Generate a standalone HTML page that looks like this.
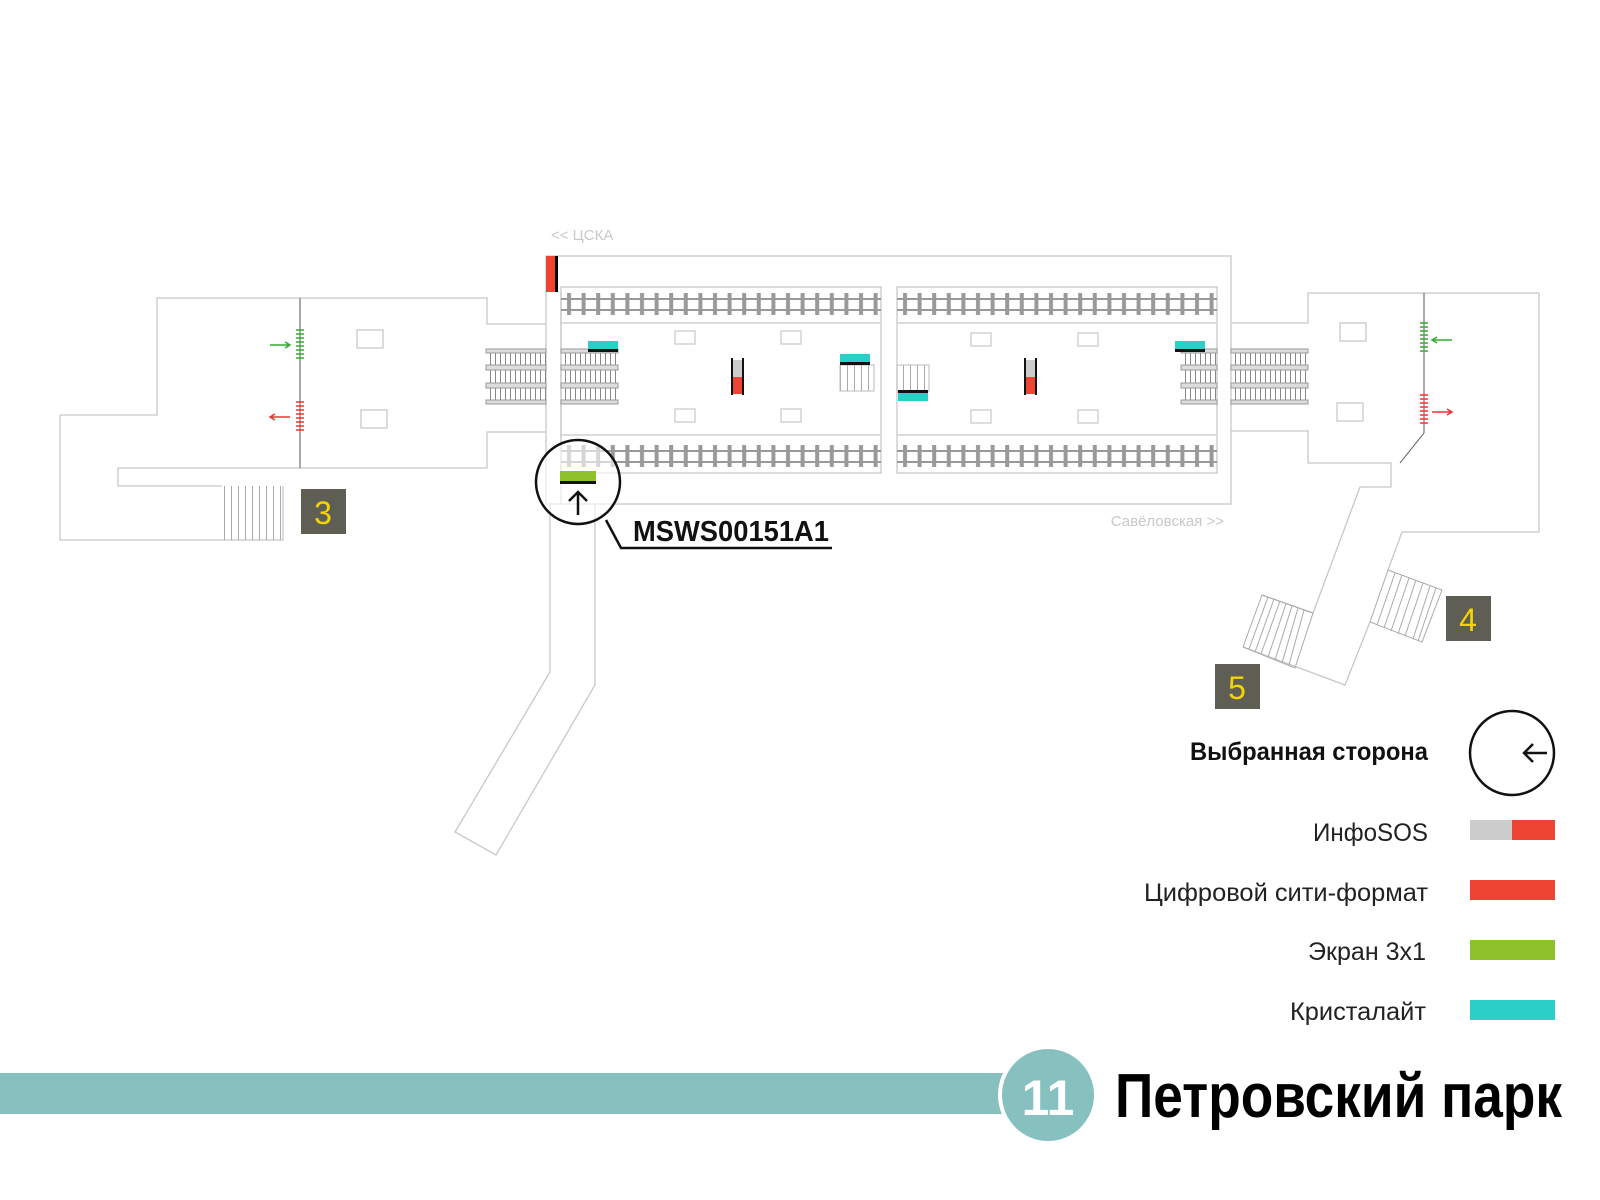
<!DOCTYPE html>
<html><head><meta charset="utf-8"><style>
html,body{margin:0;padding:0;background:#fff;}
svg{display:block;}
text{font-family:"Liberation Sans Narrow","Liberation Sans","DejaVu Sans",sans-serif;}
</style></head><body>
<svg width="1600" height="1200" viewBox="0 0 1600 1200" xmlns="http://www.w3.org/2000/svg">
<defs>
<pattern id="sl" x="563" y="0" width="14.6" height="40" patternUnits="userSpaceOnUse">
<rect x="4" y="0" width="4" height="40" fill="#999"/>
</pattern>
<pattern id="sl2" x="899" y="0" width="14.6" height="40" patternUnits="userSpaceOnUse">
<rect x="4" y="0" width="4" height="40" fill="#999"/>
</pattern>
<pattern id="esc" x="0" y="0" width="5" height="10" patternUnits="userSpaceOnUse">
<rect x="0" y="0" width="1" height="10" fill="#888"/>
</pattern>
<pattern id="st" x="0" y="0" width="7" height="10" patternUnits="userSpaceOnUse">
<rect x="0" y="0" width="1" height="10" fill="#aaa"/>
</pattern>
</defs>

<g fill="none" stroke="#c8c8c8" stroke-width="1.3">
<path d="M60,415 H157 V298 H487 V324 H546 M546,432 H487 V468 H118 V486 H222 M60,415 V540 H283 V486"/>
<rect x="546" y="256" width="685" height="248"/>
<line x1="561" y1="292" x2="561" y2="504"/>
<path d="M550,504 V672 L455,832 L496,855 L595,685 V504"/>
<rect x="561" y="287" width="320" height="186"/>
<rect x="897" y="287" width="320" height="186"/>
<line x1="561" y1="323" x2="881" y2="323"/><line x1="561" y1="435" x2="881" y2="435"/>
<line x1="897" y1="323" x2="1217" y2="323"/><line x1="897" y1="435" x2="1217" y2="435"/>
<path d="M1231,323 H1308 V293 H1539 V532 H1402 L1388,570 M1370,622 L1345,685 L1243,647 M1262,595 L1313,613 L1360,487 H1391 V463 H1308 V431 H1231"/>
<rect x="357" y="330" width="26" height="18"/><rect x="361" y="410" width="26" height="18"/>
<rect x="1340" y="323" width="26" height="18"/><rect x="1337" y="403" width="26" height="18"/>
<g stroke="#ccc"><rect x="675" y="331" width="20" height="13"/><rect x="781" y="331" width="20" height="13"/><rect x="675" y="409" width="20" height="13"/><rect x="781" y="409" width="20" height="13"/>
<rect x="971" y="333" width="20" height="13"/><rect x="1078" y="333" width="20" height="13"/><rect x="971" y="410" width="20" height="13"/><rect x="1078" y="410" width="20" height="13"/></g>
</g>

<g>
<rect x="563" y="293" width="316" height="22" fill="url(#sl)"/>
<rect x="563" y="445" width="316" height="22" fill="url(#sl)"/>
<rect x="899" y="293" width="316" height="22" fill="url(#sl2)"/>
<rect x="899" y="445" width="316" height="22" fill="url(#sl2)"/>
<g stroke="#999" stroke-width="2">
<line x1="561" y1="299" x2="881" y2="299"/><line x1="561" y1="310" x2="881" y2="310"/>
<line x1="561" y1="451" x2="881" y2="451"/><line x1="561" y1="462" x2="881" y2="462"/>
<line x1="897" y1="299" x2="1217" y2="299"/><line x1="897" y1="310" x2="1217" y2="310"/>
<line x1="897" y1="451" x2="1217" y2="451"/><line x1="897" y1="462" x2="1217" y2="462"/>
</g></g>

<g>
<rect x="487" y="352" width="59" height="50" fill="url(#esc)"/>
<rect x="563" y="352" width="55" height="50" fill="url(#esc)"/>
<rect x="1183" y="352" width="34" height="50" fill="url(#esc)"/>
<rect x="1231" y="352" width="75" height="50" fill="url(#esc)"/>
<g fill="#ddd" stroke="#999" stroke-width="1">
<rect x="486" y="349" width="60" height="4"/><rect x="486" y="365" width="60" height="5"/><rect x="486" y="383" width="60" height="5"/><rect x="486" y="400" width="60" height="4"/>
<rect x="561" y="349" width="57" height="4"/><rect x="561" y="365" width="57" height="5"/><rect x="561" y="383" width="57" height="5"/><rect x="561" y="400" width="57" height="4"/>
<rect x="1181" y="349" width="36" height="4"/><rect x="1181" y="365" width="36" height="5"/><rect x="1181" y="383" width="36" height="5"/><rect x="1181" y="400" width="36" height="4"/>
<rect x="1231" y="349" width="77" height="4"/><rect x="1231" y="365" width="77" height="5"/><rect x="1231" y="383" width="77" height="5"/><rect x="1231" y="400" width="77" height="4"/>
</g>
<rect x="840" y="365" width="34" height="26" fill="url(#st)" stroke="#bbb"/>
<rect x="897" y="365" width="32" height="26" fill="url(#st)" stroke="#bbb"/>
<rect x="222" y="486" width="61" height="54" fill="url(#st)"/>
</g>
<g stroke="#aaa" stroke-width="1" fill="none">
<path d="M1262,595 L1313,613 L1295,668 L1243,647 Z"/>
<path d="M1268,597 L1249,649 M1274,599 L1255,652 M1280,601 L1261,654 M1286,604 L1268,657 M1292,606 L1275,660 M1298,608 L1282,663 M1304,610 L1289,665"/>
<path d="M1388,570 L1442,590 L1422,642 L1370,622 Z"/>
<path d="M1395,573 L1377,625 M1402,575 L1384,628 M1409,578 L1391,631 M1416,580 L1398,634 M1423,583 L1405,636 M1430,586 L1413,639 M1436,588 L1418,641"/>
</g>

<g stroke="#555" stroke-width="1"><line x1="300" y1="298" x2="300" y2="468"/><line x1="1424" y1="293" x2="1424" y2="433"/><line x1="1424" y1="433" x2="1400" y2="463"/></g>
<g stroke-width="1.5">
<g stroke="#3a3"><line x1="296" y1="330" x2="304" y2="330"/><line x1="296" y1="334" x2="304" y2="334"/><line x1="296" y1="338" x2="304" y2="338"/><line x1="296" y1="342" x2="304" y2="342"/><line x1="296" y1="346" x2="304" y2="346"/><line x1="296" y1="350" x2="304" y2="350"/><line x1="296" y1="354" x2="304" y2="354"/><line x1="296" y1="358" x2="304" y2="358"/>
<line x1="1420" y1="323" x2="1428" y2="323"/><line x1="1420" y1="327" x2="1428" y2="327"/><line x1="1420" y1="331" x2="1428" y2="331"/><line x1="1420" y1="335" x2="1428" y2="335"/><line x1="1420" y1="339" x2="1428" y2="339"/><line x1="1420" y1="343" x2="1428" y2="343"/><line x1="1420" y1="347" x2="1428" y2="347"/><line x1="1420" y1="351" x2="1428" y2="351"/>
<path d="M270,345 H290 M285,342 L290,345 L285,348" fill="none"/><path d="M1452,340 H1432 M1437,337 L1432,340 L1437,343" fill="none"/></g>
<g stroke="#e33"><line x1="296" y1="402" x2="304" y2="402"/><line x1="296" y1="406" x2="304" y2="406"/><line x1="296" y1="410" x2="304" y2="410"/><line x1="296" y1="414" x2="304" y2="414"/><line x1="296" y1="418" x2="304" y2="418"/><line x1="296" y1="422" x2="304" y2="422"/><line x1="296" y1="426" x2="304" y2="426"/><line x1="296" y1="430" x2="304" y2="430"/>
<line x1="1420" y1="395" x2="1428" y2="395"/><line x1="1420" y1="399" x2="1428" y2="399"/><line x1="1420" y1="403" x2="1428" y2="403"/><line x1="1420" y1="407" x2="1428" y2="407"/><line x1="1420" y1="411" x2="1428" y2="411"/><line x1="1420" y1="415" x2="1428" y2="415"/><line x1="1420" y1="419" x2="1428" y2="419"/><line x1="1420" y1="423" x2="1428" y2="423"/>
<path d="M290,417 H270 M275,414 L270,417 L275,420" fill="none"/><path d="M1432,412 H1452 M1447,409 L1452,412 L1447,415" fill="none"/></g>
</g>

<rect x="546" y="256" width="9" height="36" fill="#ee4433"/><rect x="555" y="256" width="3" height="36" fill="#000"/>
<rect x="588" y="341" width="30" height="8" fill="#2ccfc8"/><rect x="588" y="349" width="30" height="3" fill="#111"/>
<rect x="840" y="354" width="30" height="8" fill="#2ccfc8"/><rect x="840" y="362" width="30" height="3" fill="#111"/>
<rect x="898" y="393" width="30" height="8" fill="#2ccfc8"/><rect x="898" y="390" width="30" height="3" fill="#111"/>
<rect x="1175" y="341" width="30" height="8" fill="#2ccfc8"/><rect x="1175" y="349" width="30" height="3" fill="#111"/>
<g><rect x="732" y="360" width="11" height="34" fill="#ccc"/><rect x="732" y="377" width="11" height="17" fill="#ee4433"/><rect x="731" y="358" width="2" height="37" fill="#111"/><rect x="742" y="358" width="2" height="37" fill="#111"/></g>
<g><rect x="1025" y="360" width="11" height="34" fill="#ccc"/><rect x="1025" y="377" width="11" height="17" fill="#ee4433"/><rect x="1024" y="358" width="2" height="37" fill="#111"/><rect x="1035" y="358" width="2" height="37" fill="#111"/></g>

<circle cx="578" cy="482" r="42" fill="#fff" fill-opacity="0.6" stroke="#111" stroke-width="2.5"/>
<rect x="560" y="471" width="36" height="10" fill="#8dc22c"/><rect x="560" y="481" width="36" height="3" fill="#111"/>
<path d="M578,515 V492 M569,501 L578,492 L587,501" stroke="#111" stroke-width="2.5" fill="none"/>
<path d="M606,520 L621,548 H832" stroke="#111" stroke-width="2.5" fill="none"/>
<text x="633" y="541" font-size="29" font-weight="bold" fill="#111" textLength="196" lengthAdjust="spacingAndGlyphs">MSWS00151A1</text>

<text x="551" y="240" font-size="15" fill="#c8c8c8">&lt;&lt; ЦСКА</text>
<text x="1224" y="526" font-size="15" fill="#c8c8c8" text-anchor="end">Савёловская &gt;&gt;</text>

<rect x="301" y="489" width="45" height="45" fill="#5e5e55"/><text x="323" y="524" font-size="32" fill="#f5d400" text-anchor="middle">3</text>
<rect x="1446" y="596" width="45" height="45" fill="#5e5e55"/><text x="1468" y="631" font-size="32" fill="#f5d400" text-anchor="middle">4</text>
<rect x="1215" y="664" width="45" height="45" fill="#5e5e55"/><text x="1237" y="699" font-size="32" fill="#f5d400" text-anchor="middle">5</text>

<text x="1428" y="760" font-size="25" font-weight="bold" fill="#111" text-anchor="end" textLength="238" lengthAdjust="spacingAndGlyphs">Выбранная сторона</text>
<circle cx="1512" cy="753" r="42" fill="none" stroke="#111" stroke-width="2.5"/>
<path d="M1547,753 H1524 M1533,744 L1524,753 L1533,762" stroke="#111" stroke-width="2.5" fill="none"/>
<text x="1428" y="841" font-size="25" fill="#222" text-anchor="end" textLength="115" lengthAdjust="spacingAndGlyphs">ИнфоSOS</text>
<rect x="1470" y="820" width="43" height="20" fill="#ccc"/><rect x="1512" y="820" width="43" height="20" fill="#ee4433"/>
<text x="1428" y="901" font-size="25" fill="#222" text-anchor="end" textLength="284" lengthAdjust="spacingAndGlyphs">Цифровой сити-формат</text>
<rect x="1470" y="880" width="85" height="20" fill="#ee4433"/>
<text x="1426" y="960" font-size="25" fill="#222" text-anchor="end" textLength="118" lengthAdjust="spacingAndGlyphs">Экран 3х1</text>
<rect x="1470" y="940" width="85" height="20" fill="#8dc22c"/>
<text x="1426" y="1020" font-size="25" fill="#222" text-anchor="end" textLength="136" lengthAdjust="spacingAndGlyphs">Кристалайт</text>
<rect x="1470" y="1000" width="85" height="20" fill="#2ccfc8"/>

<rect x="0" y="1073" width="1005" height="41" fill="#86c0bf"/>
<circle cx="1048" cy="1095" r="50" fill="#fff"/>
<circle cx="1048" cy="1095" r="46" fill="#86c0bf"/>
<text x="1048" y="1115" font-size="50" font-weight="bold" fill="#fff" text-anchor="middle">11</text>
<text x="1115" y="1117" font-size="62" font-weight="bold" fill="#000" textLength="447" lengthAdjust="spacingAndGlyphs">Петровский парк</text>
</svg>
</body></html>
